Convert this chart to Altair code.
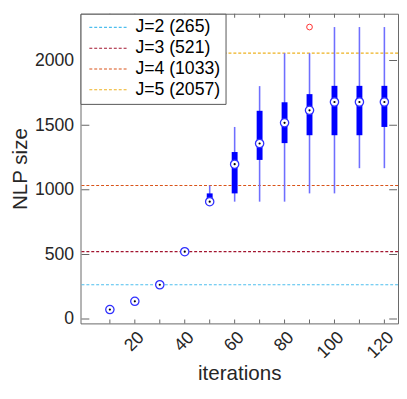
import altair as alt
import pandas as pd

# ---- data ----
iters   = [10, 20, 30, 40, 50, 60, 70, 80, 90, 100, 110, 120]
medians = [73, 137, 265, 521, 908, 1198, 1358, 1518, 1615, 1679, 1679, 1679]
q1s     = [73, 137, 265, 521, 908, 972, 1231, 1361, 1422, 1422, 1422, 1486]
q3s     = [73, 137, 265, 521, 972, 1292, 1611, 1677, 1740, 1804, 1804, 1804]
lows    = [73, 137, 265, 521, 908, 908, 908, 908, 972, 972, 1167, 1167]
highs   = [73, 137, 265, 521, 1033, 1486, 1802, 2057, 2057, 2259, 2259, 2259]
outlier_iters  = [90]
outlier_values = [2259]

ref_labels = ["J=2 (265)", "J=3 (521)", "J=4 (1033)", "J=5 (2057)"]
ref_values = [265, 521, 1033, 2057]
ref_colors = ["#4DBEEE", "#A2142F", "#D95319", "#EDB120"]

y_ticks = [0, 500, 1000, 1500, 2000]
x_ticks = [10, 20, 30, 40, 50, 60, 70, 80, 90, 100, 110, 120]
x_labels = [20, 40, 60, 80, 100, 120]

X_DOM = [0.2, 123.5]
Y_DOM = [-34, 2362]

df = pd.DataFrame(dict(it=iters, med=medians, q1=q1s, q3=q3s, lo=lows, hi=highs))
boxdf = df[df.it >= 50]
outdf = pd.DataFrame(dict(it=outlier_iters, v=outlier_values))
refdf = pd.DataFrame(dict(label=ref_labels, v=ref_values))

FONT = "Liberation Sans"
xs = alt.Scale(domain=X_DOM, nice=False, zero=False)
ys = alt.Scale(domain=Y_DOM, nice=False, zero=False)

X = alt.X("it:Q", scale=xs,
          axis=alt.Axis(values=x_labels, title="iterations", labelAngle=-45,
                        ticks=False, domain=False, grid=False, format="d",
                        labelFontSize=18, titleFontSize=21, labelPadding=5,
                        titlePadding=1, labelFont=FONT, titleFont=FONT,
                        labelColor="#262626", titleColor="#262626", titleFontWeight="normal"))
Y_AX = alt.Axis(values=y_ticks, title="NLP size", ticks=False, domain=False, grid=False,
                format="d",
                labelFontSize=18, titleFontSize=21, labelPadding=7, titlePadding=4,
                labelFont=FONT, titleFont=FONT, labelColor="#262626",
                titleColor="#262626", titleFontWeight="normal")

refs = alt.Chart(refdf).mark_rule(strokeDash=[3, 2], strokeWidth=1.2).encode(
    y=alt.Y("v:Q", scale=ys, axis=Y_AX),
    color=alt.Color("label:N",
                    scale=alt.Scale(domain=ref_labels, range=ref_colors),
                    legend=alt.Legend(title=None, orient="top-left", offset=0,
                                      symbolType="M-1,0L7,0", symbolSize=100,
                                      symbolStrokeWidth=1.2, symbolDash=[3, 2],
                                      labelOffset=33, labelFontSize=18, labelFont=FONT,
                                      labelColor="#000000", rowPadding=3.2,
                                      padding=5, strokeColor="#555555",
                                      fillColor="white", cornerRadius=0)),
)

whisk = alt.Chart(boxdf).mark_rule(color="#6f6fff", strokeWidth=1.6).encode(
    x=X, y=alt.Y("lo:Q", scale=ys), y2="hi:Q")

boxes = alt.Chart(boxdf).mark_bar(color="#0000ff", size=6).encode(
    x=X, y=alt.Y("q1:Q", scale=ys), y2="q3:Q")

med_c = alt.Chart(df).mark_point(shape="circle", fill="white", fillOpacity=1,
                                 stroke="#3030ff", strokeWidth=1.3, size=72, opacity=1).encode(
    x=X, y=alt.Y("med:Q", scale=ys))
med_d = alt.Chart(df).mark_point(shape="circle", filled=True, color="black",
                                 size=5, opacity=1).encode(
    x=X, y=alt.Y("med:Q", scale=ys))

outl = alt.Chart(outdf).mark_point(shape="circle", stroke="#ff3030", strokeWidth=1,
                                   size=34, opacity=1).encode(
    x=X, y=alt.Y("v:Q", scale=ys))

# inward axis ticks (clipped half-ticks on each frame side)
ytk = pd.DataFrame(dict(v=y_ticks * 2, side=[X_DOM[0]] * 5 + [X_DOM[1]] * 5))
xtk = pd.DataFrame(dict(v=x_ticks * 2, side=[Y_DOM[0]] * 12 + [Y_DOM[1]] * 12))
ytick = alt.Chart(ytk).mark_tick(orient="horizontal", size=8, thickness=1,
                                 color="#666666", clip=True, opacity=1).encode(
    x=alt.X("side:Q", scale=xs), y=alt.Y("v:Q", scale=ys))
xtick = alt.Chart(xtk).mark_tick(orient="vertical", size=8, thickness=1,
                                 color="#666666", clip=True, opacity=1).encode(
    x=alt.X("v:Q", scale=xs), y=alt.Y("side:Q", scale=ys))

chart = alt.layer(refs, ytick, xtick, whisk, boxes, med_c, med_d, outl).properties(
    width=324, height=316,
    autosize=alt.AutoSizeParams(type="none"),
    padding={"left": 74, "top": 2, "right": 1, "bottom": 59},
).configure_view(stroke="#666666", strokeWidth=1)

chart.save("out.html", embed_options={"renderer": "svg", "actions": False})
